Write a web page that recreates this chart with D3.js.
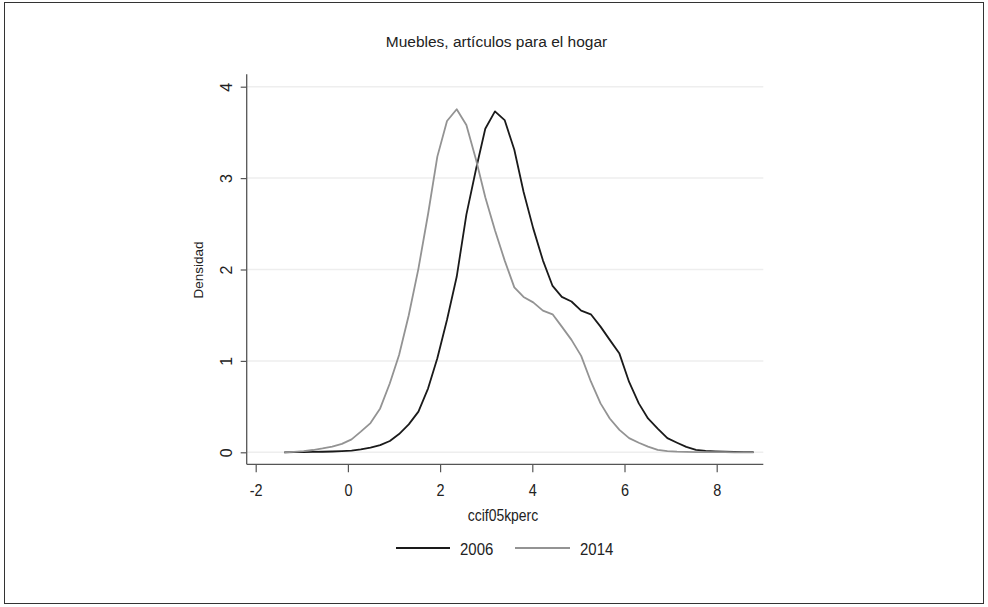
<!DOCTYPE html>
<html>
<head>
<meta charset="utf-8">
<script src="https://cdn.jsdelivr.net/npm/d3@7"></script>
<style>
    body { margin: 0; background: #fff; }
    svg { display: block; font-family: "Liberation Sans", Arial, sans-serif; }
</style>
</head>
<body>
<svg id="svg"></svg>
<script>
const width = 988;
const height = 607;

// evaluation points of the kernel density (ccif05kperc)
const gridX = [-1.38, -1.17, -0.96, -0.76, -0.55, -0.34, -0.13, 0.08, 0.28, 0.49,
    0.70, 0.91, 1.11, 1.32, 1.53, 1.74, 1.94, 2.15, 2.36, 2.57,
    2.78, 2.98, 3.19, 3.40, 3.61, 3.81, 4.02, 4.23, 4.44, 4.64,
    4.85, 5.06, 5.27, 5.48, 5.68, 5.89, 6.10, 6.31, 6.51, 6.72,
    6.93, 7.14, 7.34, 7.55, 7.76, 7.97, 8.18, 8.38, 8.59, 8.80];

const density2006 = [0.000, 0.001, 0.002, 0.004, 0.006, 0.009, 0.013, 0.019, 0.032, 0.052,
    0.078, 0.124, 0.20, 0.306, 0.445, 0.70, 1.03, 1.45, 1.92, 2.60,
    3.10, 3.54, 3.73, 3.635, 3.31, 2.85, 2.45, 2.10, 1.82, 1.70,
    1.65, 1.55, 1.51, 1.375, 1.23, 1.08, 0.77, 0.535, 0.37, 0.26,
    0.155, 0.105, 0.06, 0.027, 0.016, 0.011, 0.008, 0.005, 0.003, 0.001];

const density2014 = [0.000, 0.005, 0.012, 0.025, 0.042, 0.062, 0.092, 0.142, 0.226, 0.32,
    0.48, 0.755, 1.065, 1.50, 2.01, 2.61, 3.235, 3.625, 3.753, 3.58,
    3.20, 2.79, 2.43, 2.10, 1.805, 1.70, 1.64, 1.55, 1.51, 1.375,
    1.23, 1.055, 0.775, 0.535, 0.37, 0.245, 0.155, 0.105, 0.062, 0.027,
    0.012, 0.007, 0.005, 0.003, 0.002, 0.001, 0.001, 0.000, 0.000, 0.000];

const seriesNames = ["2006", "2014"];
const seriesColours = ["#1a1a1a", "#939393"];
const xTicks = [-2, 0, 2, 4, 6, 8];
const yTicks = [0, 1, 2, 3, 4];

const titleText = "Muebles, artículos para el hogar";
const xTitle = "ccif05kperc";
const yTitle = "Densidad";

let svg = d3.select("#svg").attr("width", width).attr("height", height);

// plot region
const plotLeft = 246.7, plotRight = 763.3, plotTop = 74.3, plotBottom = 464.3;

let xScale = d3.scaleLinear().domain([-2, 8]).range([255.7, 716.7]);
let yScale = d3.scaleLinear().domain([0, 4]).range([452.3, 86.7]);

// outer frame
svg.append("rect")
    .attr("x", 4.5).attr("y", 2.5)
    .attr("width", 979).attr("height", 601)
    .attr("fill", "none")
    .attr("stroke", "#333")
    .attr("stroke-width", 1);

// title
svg.append("text")
    .attr("x", 496.5).attr("y", 47)
    .attr("text-anchor", "middle")
    .style("font-size", "15.5px")
    .style("fill", "#222")
    .text(titleText);

// gridlines
svg.append("g").selectAll("line")
    .data(yTicks)
    .join("line")
    .attr("x1", plotLeft).attr("x2", plotRight)
    .attr("y1", d => yScale(d)).attr("y2", d => yScale(d))
    .attr("stroke", "#eeeeee")
    .attr("stroke-width", 1.5);

// y axis
let yAxis = svg.append("g")
    .attr("transform", `translate(${plotLeft},0)`)
    .call(d3.axisLeft(yScale).tickValues(yTicks).tickFormat(d => String(d))
        .tickSize(6).tickSizeOuter(0));
yAxis.select(".domain").remove();
yAxis.selectAll(".tick line").attr("stroke", "#555").attr("stroke-width", 1.2);
yAxis.selectAll(".tick text")
    .attr("x", 0).attr("dy", null)
    .attr("transform", "translate(-20,0) rotate(-90)")
    .attr("text-anchor", "middle")
    .attr("dominant-baseline", "central")
    .style("font-size", "16px")
    .style("font-family", "\"Liberation Sans\", Arial, sans-serif")
    .style("fill", "#222");

// x axis
let xAxis = svg.append("g")
    .attr("transform", `translate(0,${plotBottom})`)
    .call(d3.axisBottom(xScale).tickValues(xTicks).tickFormat(d => String(d))
        .tickSize(8).tickSizeOuter(0).tickPadding(12));
xAxis.select(".domain").remove();
xAxis.selectAll(".tick line").attr("stroke", "#555").attr("stroke-width", 1.2);
xAxis.selectAll(".tick text")
    .attr("transform", "scale(0.85,1)")
    .style("font-size", "17px")
    .style("font-family", "\"Liberation Sans\", Arial, sans-serif")
    .style("fill", "#222");

// axis lines
svg.append("line")
    .attr("x1", plotLeft).attr("x2", plotLeft)
    .attr("y1", plotTop).attr("y2", plotBottom)
    .attr("stroke", "#555").attr("stroke-width", 1.3);
svg.append("line")
    .attr("x1", plotLeft).attr("x2", plotRight)
    .attr("y1", plotBottom).attr("y2", plotBottom)
    .attr("stroke", "#555").attr("stroke-width", 1.3);

// axis titles
svg.append("text")
    .attr("transform", "translate(503,521) scale(0.87,1)")
    .attr("text-anchor", "middle")
    .style("font-size", "16px")
    .style("fill", "#222")
    .text(xTitle);

svg.append("text")
    .attr("transform", "translate(203,270) rotate(-90)")
    .attr("text-anchor", "middle")
    .style("font-size", "13.5px")
    .style("fill", "#222")
    .text(yTitle);

// density lines
const line = d3.line()
    .x(d => xScale(d[0]))
    .y(d => yScale(d[1]));

const allSeries = [density2006, density2014];
allSeries.forEach((vals, i) => {
    svg.append("path")
        .datum(gridX.map((x, j) => [x, vals[j]]))
        .attr("d", line)
        .attr("fill", "none")
        .attr("stroke", seriesColours[i])
        .attr("stroke-width", 1.8)
        .attr("stroke-linejoin", "round");
});

// legend
const legendItems = [
    { x1: 396, x2: 450, tx: 460 },
    { x1: 515, x2: 570, tx: 580 }
];
let legend = svg.append("g");
legendItems.forEach((item, i) => {
    legend.append("line")
        .attr("x1", item.x1).attr("x2", item.x2)
        .attr("y1", 548).attr("y2", 548)
        .attr("stroke", seriesColours[i])
        .attr("stroke-width", 2);
    legend.append("text")
        .attr("transform", `translate(${item.tx},555) scale(0.88,1)`)
        .style("font-size", "17px")
        .style("fill", "#222")
        .text(seriesNames[i]);
});
</script>
</body>
</html>
